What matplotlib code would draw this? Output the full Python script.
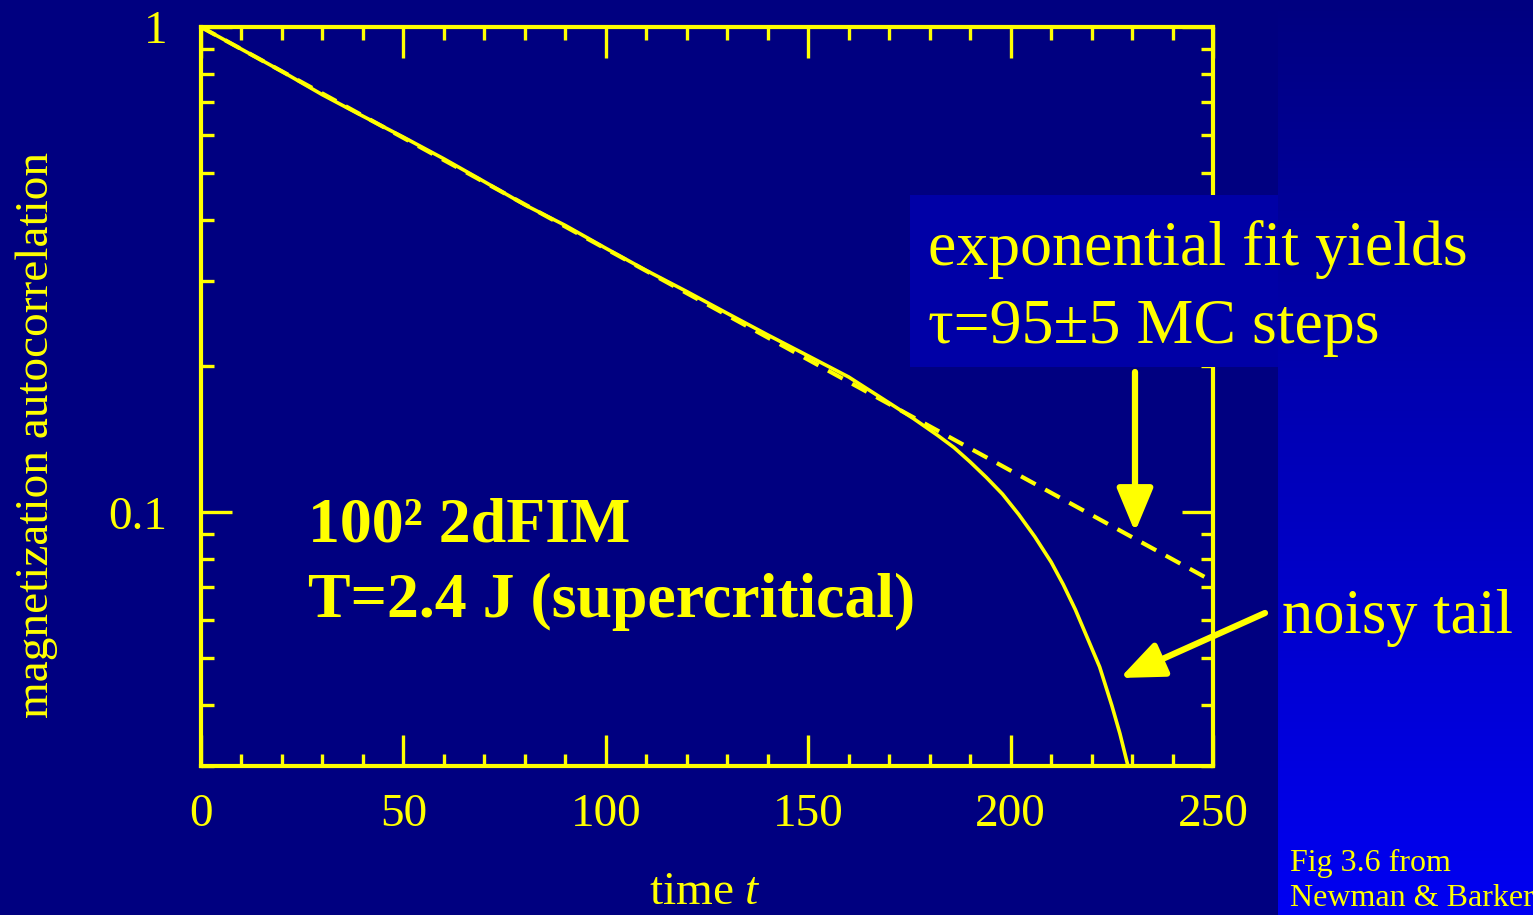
import numpy as np
import matplotlib
matplotlib.use("Agg")
import matplotlib.pyplot as plt
from matplotlib.ticker import MultipleLocator, LogLocator, NullFormatter, FixedLocator, FixedFormatter
from matplotlib.patches import Rectangle, FancyArrowPatch
from matplotlib.colors import LinearSegmentedColormap

t_data = [0, 10, 20, 30, 40, 50, 60, 70, 80, 90, 100, 110, 120, 130, 140,
          150, 160, 170, 176, 182, 186, 190, 194, 198, 202, 206, 210, 213,
          216, 219, 222, 225, 227, 229]
c_data = [1.0, 0.90, 0.81, 0.725, 0.655, 0.593, 0.535, 0.48, 0.43, 0.39, 0.35,
          0.315, 0.285, 0.257, 0.232, 0.21, 0.19, 0.168, 0.156, 0.144, 0.136,
          0.127, 0.118, 0.109, 0.099, 0.089, 0.079, 0.071, 0.063, 0.055,
          0.048, 0.040, 0.035, 0.030]

# exponential fit, straight line on the log axis
t_fit = [0, 250]
c_fit = [1.0, 0.072]

x_ticks = [0, 50, 100, 150, 200, 250]
y_ticks = [0.1, 1]
y_ticklabels = ["0.1", "1"]

W, H = 1533, 915
YEL = "#ffff00"
NAVY = "#000080"

plt.rcParams["font.family"] = ["Liberation Serif", "DejaVu Serif"]
plt.rcParams["mathtext.fontset"] = "custom"
plt.rcParams["mathtext.rm"] = "Liberation Serif"
plt.rcParams["mathtext.it"] = "Liberation Serif:italic"


def fx(x):
    return x / W


def fy(y):
    return 1 - y / H


fig = plt.figure(figsize=(W / 100, H / 100), dpi=100, facecolor=NAVY)

# gradient strip on the right side of the slide
bg = fig.add_axes([fx(1278), 0, 1 - fx(1278), 1])
bg.axis("off")
cmap = LinearSegmentedColormap.from_list("slide", [NAVY, "#0000f2"])
bg.imshow(np.linspace(0, 1, 256).reshape(-1, 1), aspect="auto", cmap=cmap)

ax = fig.add_axes([fx(201), fy(766), fx(1213) - fx(201), fy(27) - fy(766)])
ax.set_facecolor(NAVY)

ax.plot(t_fit, c_fit, color=YEL, lw=3, ls=(0, (4, 2.6)))
ax.plot(t_data, c_data, color=YEL, lw=2.6)

ax.set_yscale("log")
ax.set_xlim(0, 250)
ax.set_ylim(0.03, 1)

for s in ax.spines.values():
    s.set_color(YEL)
    s.set_linewidth(3)

ax.xaxis.set_major_locator(FixedLocator(x_ticks))
ax.xaxis.set_minor_locator(MultipleLocator(10))
ax.yaxis.set_major_locator(FixedLocator(y_ticks))
ax.yaxis.set_major_formatter(FixedFormatter(y_ticklabels))
ax.yaxis.set_minor_locator(LogLocator(base=10, subs=np.arange(2, 10)))
ax.yaxis.set_minor_formatter(NullFormatter())

ax.tick_params(which="both", direction="in", top=True, right=True,
               color=YEL, labelcolor=YEL, width=2.4)
ax.tick_params(which="major", length=22, labelsize=34)
ax.tick_params(which="minor", length=9)
ax.tick_params(axis="x", which="major", pad=20)
ax.tick_params(axis="y", which="major", pad=24)

fig.text(fx(37), fy(435), "magnetization autocorrelation", color=YEL,
         fontsize=34, rotation=90, ha="center", va="center")
fig.text(fx(705), fy(904), "time $t$", color=YEL, fontsize=34,
         ha="center", va="baseline")

fig.text(fx(308), fy(541), "100\u00b2 2dFIM", color=YEL, fontsize=46,
         fontweight="bold", va="baseline")
fig.text(fx(308), fy(617), "T=2.4 J (supercritical)", color=YEL, fontsize=46,
         fontweight="bold", va="baseline")

# text box covering the top-right of the plot
fig.add_artist(Rectangle((fx(910), fy(367)), fx(1278) - fx(910), fy(195) - fy(367),
                         transform=fig.transFigure, facecolor="#0000a6",
                         edgecolor="none", zorder=2))
fig.text(fx(928), fy(265), "exponential fit yields", color=YEL, fontsize=46,
         va="baseline", zorder=3)
fig.text(fx(928), fy(343), "\u03c4=95\u00b15 MC steps", color=YEL, fontsize=46,
         va="baseline", zorder=3)
fig.text(fx(1282), fy(633), "noisy tail", color=YEL, fontsize=45,
         va="baseline", zorder=3)

fig.text(fx(1290), fy(871), "Fig 3.6 from", color=YEL, fontsize=23, va="baseline")
fig.text(fx(1290), fy(906), "Newman & Barker", color=YEL, fontsize=23, va="baseline")

for start, end in [((1135, 372), (1135, 532)), ((1265, 613), (1120, 678))]:
    fig.add_artist(FancyArrowPatch((fx(start[0]), fy(start[1])), (fx(end[0]), fy(end[1])),
                                   transform=fig.transFigure, color=YEL, lw=4.5,
                                   arrowstyle="-|>,head_width=0.5,head_length=1.2",
                                   mutation_scale=22, shrinkA=0, shrinkB=0, zorder=4))

fig.savefig("out.png", dpi=100, facecolor=NAVY)
